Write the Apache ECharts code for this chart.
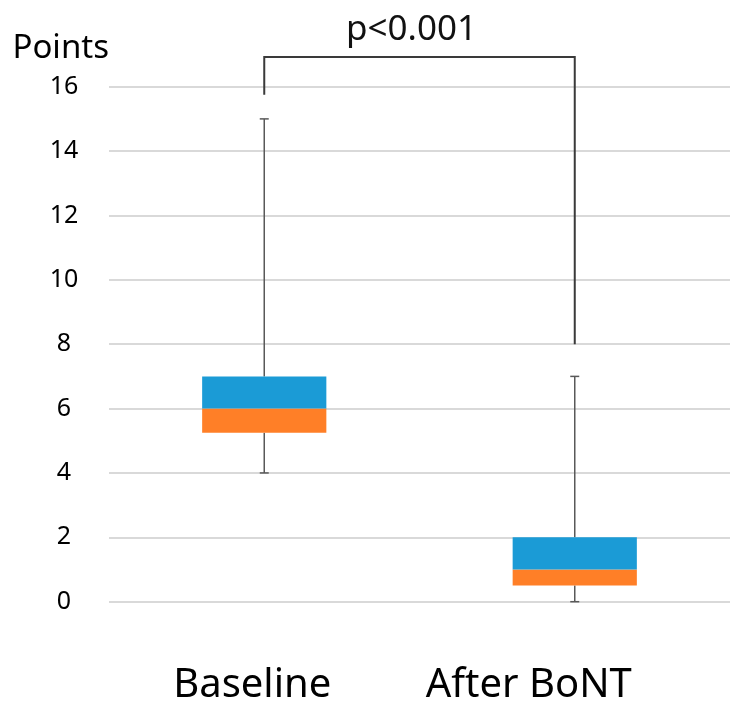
<!DOCTYPE html>
<html>
<head>
<meta charset="utf-8">
<script src="https://cdn.jsdelivr.net/npm/echarts@6/dist/echarts.min.js"></script>
<style>html,body{margin:0;padding:0;background:#fff;}#c{width:743px;height:709px;}</style>
</head>
<body>
<div id="c"></div>
<script>
var categories = ['Baseline', 'After BoNT'];
var whiskerLow = [4, 0];
var q1 = [5.25, 0.5];
var median = [6, 1];
var q3 = [7, 2];
var whiskerHigh = [15, 7];
var yTicks = [0, 2, 4, 6, 8, 10, 12, 14, 16];
var bracketLeftEnd = 15.75;
var bracketTop = 16.92;
var bracketRightEnd = 8;
var pLabel = 'p<0.001';
var yName = 'Points';

var FONT = 'Noto Sans';
var chart = echarts.init(document.getElementById('c'), null, {renderer: 'canvas'});

var boxData = categories.map(function (c, i) {
  return [i, whiskerLow[i], q1[i], median[i], q3[i], whiskerHigh[i]];
});

function renderBox(params, api) {
  var idx = api.value(0);
  var pLow = api.coord([idx, api.value(1)]);
  var pQ1 = api.coord([idx, api.value(2)]);
  var pMed = api.coord([idx, api.value(3)]);
  var pQ3 = api.coord([idx, api.value(4)]);
  var pHigh = api.coord([idx, api.value(5)]);
  var bw = api.size([1, 0])[0] * 0.4;
  var cx = pMed[0];
  var capW = 9;
  var lineStyle = {stroke: '#595959', lineWidth: 1.5};
  return {
    type: 'group',
    children: [
      {type: 'line', shape: {x1: cx, y1: pLow[1], x2: cx, y2: pQ1[1]}, style: lineStyle},
      {type: 'line', shape: {x1: cx, y1: pQ3[1], x2: cx, y2: pHigh[1]}, style: lineStyle},
      {type: 'line', shape: {x1: cx - capW / 2, y1: pLow[1], x2: cx + capW / 2, y2: pLow[1]}, style: lineStyle},
      {type: 'line', shape: {x1: cx - capW / 2, y1: pHigh[1], x2: cx + capW / 2, y2: pHigh[1]}, style: lineStyle},
      {type: 'rect', shape: {x: cx - bw / 2, y: pMed[1], width: bw, height: pQ1[1] - pMed[1]}, style: {fill: '#FF7F27'}},
      {type: 'rect', shape: {x: cx - bw / 2, y: pQ3[1], width: bw, height: pMed[1] - pQ3[1]}, style: {fill: '#1B9BD6'}}
    ]
  };
}

function renderBracket(params, api) {
  var a = api.coord([0, bracketLeftEnd]);
  var b = api.coord([0, bracketTop]);
  var c = api.coord([1, bracketTop]);
  var d = api.coord([1, bracketRightEnd]);
  return {
    type: 'group',
    children: [
      {type: 'polyline', shape: {points: [a, b, c, d]}, style: {stroke: '#3a3a3a', lineWidth: 2, fill: null}},
      {type: 'text', style: {text: pLabel, x: (b[0] + c[0]) / 2 - 8, y: b[1] - 27, align: 'center', verticalAlign: 'middle',
        font: '35px "' + FONT + '"', fill: '#111'}}
    ]
  };
}

chart.setOption({
  animation: false,
  backgroundColor: '#fff',
  grid: {left: 109, right: 13, top: 86.7, bottom: 107.3, containLabel: false},
  xAxis: {
    type: 'category',
    data: categories,
    boundaryGap: true,
    axisLine: {show: false},
    axisTick: {show: false},
    axisLabel: {
      margin: 64,
      formatter: function (v, i) { return i === 0 ? '{a|' + v + '}' : '{b|' + v + '}'; },
      rich: {
        a: {fontFamily: FONT, fontSize: 40, color: '#000', padding: [0, 24, 0, 0]},
        b: {fontFamily: FONT, fontSize: 40, color: '#000', padding: [0, 92, 0, 0]}
      }
    }
  },
  yAxis: {
    type: 'value',
    min: yTicks[0],
    max: yTicks[yTicks.length - 1],
    interval: yTicks[1] - yTicks[0],
    name: yName,
    nameLocation: 'end',
    nameGap: 22,
    nameTextStyle: {fontFamily: FONT, fontSize: 33, color: '#000', align: 'right', padding: [0, 0, 0, 0]},
    axisLine: {show: false},
    axisTick: {show: false},
    axisLabel: {fontFamily: FONT, fontSize: 25, color: '#000', align: 'center', margin: 45},
    splitLine: {lineStyle: {color: '#d9d9d9', width: 2}}
  },
  series: [
    {type: 'custom', renderItem: renderBox, data: boxData, clip: false, encode: {x: 0, y: [1, 5]}},
    {type: 'custom', renderItem: renderBracket, data: [[0, bracketTop]], clip: false, encode: {x: 0, y: 1}}
  ]
});
</script>
</body>
</html>
